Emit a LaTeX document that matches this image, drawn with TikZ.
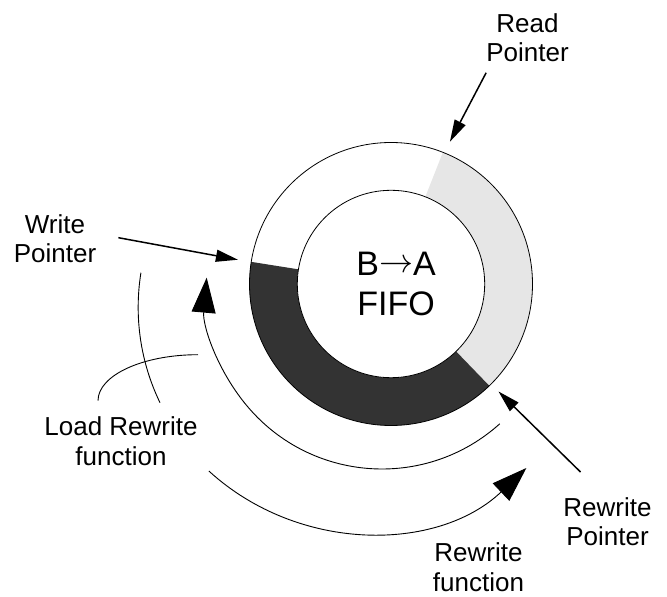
\documentclass[tikz,border=0pt]{standalone}
\usepackage{fix-cm}
\usepackage{fontspec}
\setmainfont{Liberation Sans}
\usetikzlibrary{arrows.meta,positioning}
\definecolor{ringdark}{HTML}{333333}
\definecolor{ringlight}{HTML}{E6E6E6}
\tikzstyle{note} = [align=center,inner sep=0,font=\fontsize{26}{29.5}\selectfont]
\tikzstyle{pointer} = [-{Triangle[length=22pt,width=12pt]},line width=1.5pt]
\tikzstyle{sweep} = [line width=0.9pt]
\tikzstyle{bigsweep} = [sweep,-{Triangle[length=35pt,width=24pt]}]
\def \rout {141.5pt}
\def \rin {93.7pt}

\begin{document}
\begin{tikzpicture}[x=1pt,y=1pt]
  \useasboundingbox (0,0) rectangle (667,597);
  \coordinate (ring) at (391,313);
  % ring segments
  \fill[ringlight] ([shift={(-46:\rout)}]ring) arc[start angle=-46,end angle=68.5,radius=\rout]
    -- ([shift={(68.5:\rin)}]ring) arc[start angle=68.5,end angle=-46,radius=\rin] -- cycle;
  \fill[ringdark] ([shift={(171:\rout)}]ring) arc[start angle=171,end angle=314,radius=\rout]
    -- ([shift={(314:\rin)}]ring) arc[start angle=314,end angle=171,radius=\rin] -- cycle;
  \draw[line width=0.8pt] (ring) circle[radius=\rout];
  \draw[line width=0.8pt,fill=white] (ring) circle[radius=\rin];
  \node[font=\fontsize{34}{39.5}\selectfont,align=center,inner sep=0] (fifo) at ([xshift=5pt]ring)
    {B\raisebox{3.5pt}{$\rightarrow$}A\\FIFO};
  % labels
  \node[note] (read) at (527.5,559.3) {Read\\Pointer};
  \node[note] (write) at (55,358.3) {Write\\Pointer};
  \node[note] (load) at (121,155.8) {Load Rewrite\\function};
  \node[note] (rwptr) at (607.5,75.5) {Rewrite\\Pointer};
  \node[note] (rwfunc) at (478.5,30) {Rewrite\\function};
  % pointers
  \coordinate (rdtip) at ([shift={(67.5:154pt)}]ring);
  \coordinate (wrtip) at ([shift={(171:155pt)}]ring);
  \coordinate (rwtip) at ([shift={(-45:152pt)}]ring);
  \draw[pointer] ([yshift=-10.6pt]read.south west) -- (rdtip);
  \draw[pointer] ([shift={(22pt,1pt)}]write.east) -- (wrtip);
  \draw[pointer] ([shift={(-27pt,25pt)}]rwptr.north) -- (rwtip);
  % sweeps
  \coordinate (lrc) at ([shift={(-9pt,-9pt)}]ring);
  \coordinate (rwc) at ([shift={(-25pt,-15pt)}]ring);
  \draw[bigsweep] ([shift={(-48:176pt)}]lrc) arc[start angle=-48,end angle=-185,radius=176pt];
  \draw[bigsweep] ([shift={(-132.4:233pt)}]rwc) arc[start angle=-132.4,end angle=-46.5,radius=233pt];
  \draw[sweep] ([shift={(-23pt,16pt)}]load.north) arc[start angle=180,end angle=90,x radius=100pt,y radius=46pt];
  \draw[sweep] ([shift={(39pt,14pt)}]load.north) arc[start angle=205.8,end angle=170.9,radius=219pt];
\end{tikzpicture}
\end{document}
